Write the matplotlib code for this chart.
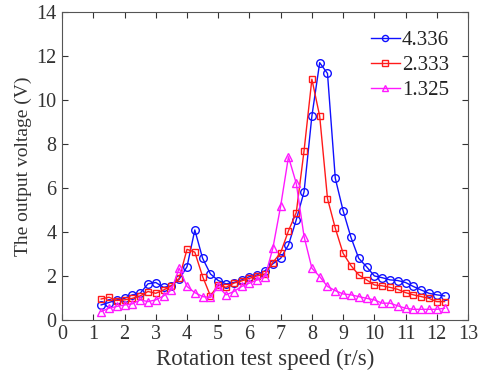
import numpy as np
import matplotlib
matplotlib.use('Agg')
import matplotlib.pyplot as plt

plt.rcParams['font.family'] = ['Liberation Serif', 'DejaVu Serif']

speed = np.arange(1.25, 12.26, 0.25)

v_4336 = [0.68, 0.79, 0.91, 0.98, 1.14, 1.21, 1.64, 1.70, 1.48, 1.55,
          1.85, 2.42, 4.09, 2.80, 2.09, 1.79, 1.64, 1.70, 1.82, 1.97,
          2.05, 2.24, 2.55, 2.80, 3.41, 4.55, 5.83, 9.27, 11.70, 11.21,
          6.44, 4.97, 3.76, 2.80, 2.42, 2.00, 1.92, 1.82, 1.79, 1.70,
          1.52, 1.36, 1.21, 1.14, 1.09]
v_2333 = [0.95, 1.03, 0.88, 0.91, 0.98, 1.09, 1.29, 1.21, 1.36, 1.55,
          1.89, 3.21, 3.08, 1.97, 1.09, 1.59, 1.48, 1.67, 1.77, 1.89,
          2.00, 2.09, 2.61, 3.06, 4.05, 4.88, 7.70, 10.95, 9.27, 5.52,
          4.17, 3.03, 2.47, 2.05, 1.82, 1.59, 1.55, 1.48, 1.39, 1.24,
          1.14, 1.06, 0.98, 0.83, 0.83]
v_1325 = [0.38, 0.53, 0.61, 0.68, 0.73, 0.91, 0.83, 0.91, 1.09, 1.36,
          2.35, 1.52, 1.24, 1.06, 1.02, 1.52, 1.14, 1.29, 1.52, 1.67,
          1.82, 1.97, 3.26, 5.18, 7.42, 6.21, 3.79, 2.35, 1.97, 1.52,
          1.33, 1.18, 1.14, 1.06, 0.98, 0.91, 0.76, 0.76, 0.64, 0.53,
          0.48, 0.48, 0.48, 0.48, 0.53]

fig = plt.figure(figsize=(4.78, 3.79), dpi=100)
ax = fig.add_axes([0.13, 0.156, 0.849, 0.812])

ax.plot(speed, v_4336, '-o', color='#1010ff', mfc='none', ms=5.5, lw=1, label='4.336')
ax.plot(speed, v_2333, '-s', color='#ff1a1a', mfc='none', ms=5, lw=1, label='2.333')
ax.plot(speed, v_1325, '-^', color='#ff19ff', mfc='none', ms=5.5, lw=1, label='1.325')

ax.set_xlim(0, 13)
ax.set_ylim(0, 14)
ax.set_xticks(range(0, 14))
ax.set_yticks(range(0, 15, 2))
ax.tick_params(direction='in', top=True, right=True, labelsize=14.5,
               colors='#333333', length=4, pad=4)
for s in ax.spines.values():
    s.set_color('#555555')
ax.set_xlabel('Rotation test speed (r/s)', fontsize=16.5, color='#333333', labelpad=3)
ax.set_ylabel('The output voltage (V)', fontsize=14, color='#333333', labelpad=3)

leg = ax.legend(loc='upper right', frameon=False, fontsize=15, markerscale=0.8,
                handlelength=1.4, handletextpad=0.1, labelspacing=0.25,
                borderaxespad=0.5)
for t in leg.get_texts():
    t.set_color('#222222')

fig.savefig('out.png', dpi=100)
